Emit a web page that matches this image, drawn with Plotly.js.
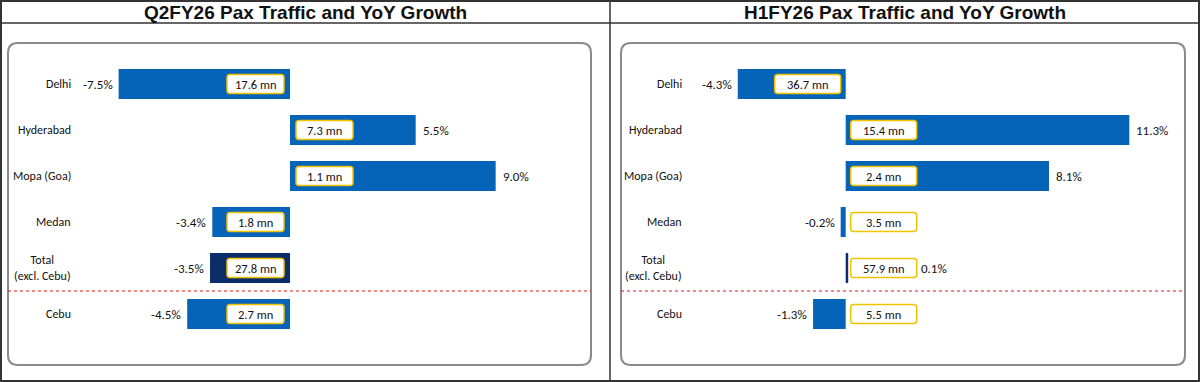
<!DOCTYPE html>
<html>
<head>
<meta charset="utf-8">
<script src="https://cdn.plot.ly/plotly-3.0.1.min.js"></script>
<style>html,body{margin:0;padding:0;background:#fff;}#chart{width:1200px;height:382px;}</style>
</head>
<body>
<div id="chart"></div>
<script>
// ---- data ----
const categories = ["Delhi", "Hyderabad", "Mopa (Goa)", "Medan", "Total<br>(excl. Cebu)", "Cebu"];
const q2Growth = [-7.5, 5.5, 9.0, -3.4, -3.5, -4.5];
const q2Pax = [17.6, 7.3, 1.1, 1.8, 27.8, 2.7];
const h1Growth = [-4.3, 11.3, 8.1, -0.2, 0.1, -1.3];
const h1Pax = [36.7, 15.4, 2.4, 3.5, 57.9, 5.5];
const panelTitles = ["Q2FY26 Pax Traffic and YoY Growth", "H1FY26 Pax Traffic and YoY Growth"];
const totalIndex = 4;

// ---- layout helpers ----
const W = 1200, H = 382;
const px = x => x / W, py = y => 1 - y / H;
const BLUE = '#0563b8', NAVY = '#0b2e6b', GOLD = '#f2c200';
const FONT = "'Liberation Sans Narrow', 'Arial Narrow', Carlito, Calibri, 'Liberation Sans', Arial, sans-serif";

function rr(x0, y0, x1, y1, r) {
  return `M ${px(x0 + r)},${py(y0)} L ${px(x1 - r)},${py(y0)} Q ${px(x1)},${py(y0)} ${px(x1)},${py(y0 + r)} ` +
    `L ${px(x1)},${py(y1 - r)} Q ${px(x1)},${py(y1)} ${px(x1 - r)},${py(y1)} L ${px(x0 + r)},${py(y1)} ` +
    `Q ${px(x0)},${py(y1)} ${px(x0)},${py(y1 - r)} L ${px(x0)},${py(y0 + r)} Q ${px(x0)},${py(y0)} ${px(x0 + r)},${py(y0)} Z`;
}
function rrPix(x0, x1, h, r) {
  const y0 = -h / 2, y1 = h / 2;
  return `M ${x0 + r},${y0} L ${x1 - r},${y0} Q ${x1},${y0} ${x1},${y0 + r} L ${x1},${y1 - r} Q ${x1},${y1} ${x1 - r},${y1} ` +
    `L ${x0 + r},${y1} Q ${x0},${y1} ${x0},${y1 - r} L ${x0},${y0 + r} Q ${x0},${y0} ${x0 + r},${y0} Z`;
}

const panels = [
  { growth: q2Growth, pax: q2Pax, xref: 'x', axis: 'xaxis', box: [8, 43, 591, 365], zeroPx: 290, ppu: 22.85,
    labelX: 73, boxW: 57, gap: 6, title: panelTitles[0], titleX: 305 },
  { growth: h1Growth, pax: h1Pax, xref: 'x2', axis: 'xaxis2', box: [621, 43, 1185, 365], zeroPx: 845.7, ppu: 25.1,
    labelX: 684, boxW: 66, gap: 5, title: panelTitles[1], titleX: 905 }
];

const ys = categories.map((c, i) => i);
const traces = [];
const shapes = [];
const annotations = [];
const layout = {
  width: W, height: H, margin: { l: 0, r: 0, t: 0, b: 0 },
  paper_bgcolor: '#fff', plot_bgcolor: 'rgba(0,0,0,0)', showlegend: false,
  yaxis: { domain: [0, 1], range: [(H - 84) / 46, -84 / 46], visible: false, fixedrange: true },
  font: { family: FONT, size: 12, color: '#111' }
};

// outer frame, title row, divider
shapes.push({ type: 'rect', xref: 'paper', yref: 'paper', x0: px(1), x1: px(1199), y0: py(381), y1: py(1), line: { color: '#333', width: 2 } });
shapes.push({ type: 'line', xref: 'paper', yref: 'paper', x0: 0, x1: 1, y0: py(23), y1: py(23), line: { color: '#333', width: 1.5 } });
shapes.push({ type: 'line', xref: 'paper', yref: 'paper', x0: px(610), x1: px(610), y0: 0, y1: 1, line: { color: '#333', width: 1.5 } });

panels.forEach((p, k) => {
  const [bx0, by0, bx1, by1] = p.box;
  const d0 = bx0, d1 = bx1;
  layout[p.axis] = {
    domain: [px(d0), px(d1)],
    range: [(d0 - p.zeroPx) / p.ppu, (d1 - p.zeroPx) / p.ppu],
    visible: false, fixedrange: true, anchor: 'y'
  };
  traces.push({
    type: 'bar', orientation: 'h', x: p.growth, y: ys, xaxis: p.xref, yaxis: 'y',
    width: 0.65, hoverinfo: 'skip',
    marker: { color: p.growth.map((v, i) => i === totalIndex ? NAVY : BLUE), line: { width: 0 } }
  });
  // panel rounded box
  shapes.push({ type: 'path', xref: 'paper', yref: 'paper', path: rr(bx0, by0, bx1, by1, 10), line: { color: '#8a8a8a', width: 2 }, layer: 'below' });
  // red dotted separator between Total and Cebu
  shapes.push({ type: 'line', xref: 'paper', yref: 'y', x0: px(bx0), x1: px(bx1), y0: totalIndex + 0.5, y1: totalIndex + 0.5,
    line: { color: '#e01010', width: 1, dash: 'dot' } });
  // title
  annotations.push({ xref: 'paper', yref: 'paper', x: px(p.titleX), y: py(12), text: '<b>' + p.title + '</b>', showarrow: false,
    xanchor: 'center', yanchor: 'middle', font: { family: "'Liberation Sans', Arial, sans-serif", size: 19, color: '#111' } });

  p.growth.forEach((v, i) => {
    // category label
    annotations.push({ xref: 'paper', yref: 'y', x: px(p.labelX), y: i, text: categories[i], showarrow: false,
      xanchor: 'right', yanchor: 'middle', align: 'center', font: { size: 12 } });
    const barLen = Math.abs(v) * p.ppu;
    const inside = barLen >= p.boxW + p.gap + 4;
    let bxa, bxb;
    if (inside && v < 0) { bxa = -(p.gap + p.boxW); bxb = -p.gap; }
    else { bxa = p.gap; bxb = p.gap + p.boxW; }
    shapes.push({ type: 'path', xref: p.xref, yref: 'y', xsizemode: 'pixel', ysizemode: 'pixel', xanchor: 0, yanchor: i,
      path: rrPix(bxa, bxb, 19, 3), fillcolor: '#fff', line: { color: GOLD, width: 1.5 } });
    annotations.push({ xref: p.xref, yref: 'y', x: 0, y: i, xshift: (bxa + bxb) / 2, text: p.pax[i].toFixed(1) + ' mn',
      showarrow: false, xanchor: 'center', yanchor: 'middle', font: { size: 12.5 } });
    // growth label
    const label = v.toFixed(1) + '%';
    if (v < 0) {
      annotations.push({ xref: p.xref, yref: 'y', x: v, y: i, xshift: -4, text: label, showarrow: false,
        xanchor: 'right', yanchor: 'middle', font: { size: 13 } });
    } else if (inside) {
      annotations.push({ xref: p.xref, yref: 'y', x: v, y: i, xshift: 5, text: label, showarrow: false,
        xanchor: 'left', yanchor: 'middle', font: { size: 13 } });
    } else {
      annotations.push({ xref: p.xref, yref: 'y', x: 0, y: i, xshift: bxb + 2, text: label, showarrow: false,
        xanchor: 'left', yanchor: 'middle', font: { size: 13 } });
    }
  });
});

layout.shapes = shapes;
layout.annotations = annotations;
Plotly.newPlot('chart', traces, layout, { displayModeBar: false, staticPlot: true });
</script>
</body>
</html>
